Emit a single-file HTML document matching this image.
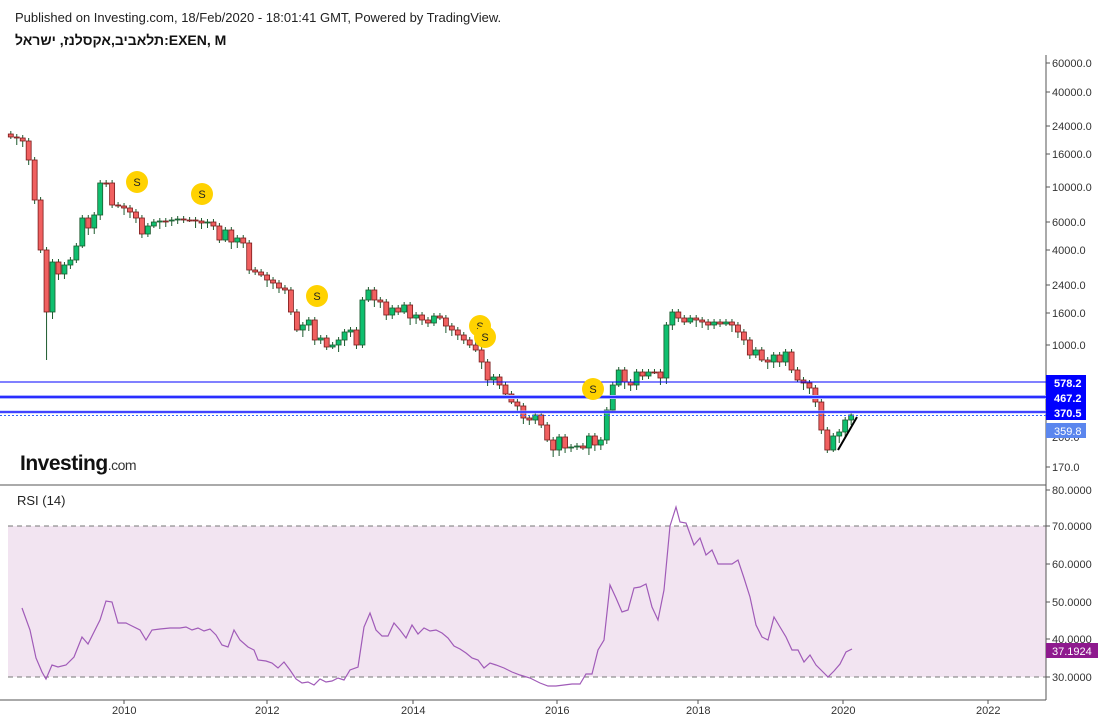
<!DOCTYPE html>
<html><head><meta charset="utf-8"><style>
body{margin:0;background:#fff;width:1105px;height:723px;overflow:hidden;font-family:"Liberation Sans",sans-serif}
</style></head><body>
<svg id="s" width="1105" height="723" xmlns="http://www.w3.org/2000/svg" font-family="Liberation Sans, sans-serif">
<text x="15" y="22" font-size="13" fill="#222">Published on Investing.com, 18/Feb/2020 - 18:01:41 GMT, Powered by TradingView.</text>
<text x="15" y="45" font-size="14" font-weight="bold" fill="#111" style="font-family:'Liberation Sans','DejaVu Sans',sans-serif">תלאביב,אקסלנז, ישראל:EXEN, M</text>
<rect x="8" y="526" width="1038" height="151" fill="#f2e4f1"/>
<line x1="8" y1="526" x2="1046" y2="526" stroke="#777" stroke-dasharray="5,4"/>
<line x1="8" y1="677" x2="1046" y2="677" stroke="#777" stroke-dasharray="5,4"/>
<line x1="1046" y1="55" x2="1046" y2="700" stroke="#555"/>
<line x1="0" y1="485" x2="1046" y2="485" stroke="#555"/>
<line x1="0" y1="700" x2="1046" y2="700" stroke="#555"/>
<g id="c"></g>
<line x1="0" y1="382" x2="1046" y2="382" stroke="#0000ff" stroke-width="1"/>
<line x1="0" y1="397" x2="1046" y2="397" stroke="#aab4ff" stroke-width="4"/>
<line x1="0" y1="397" x2="1046" y2="397" stroke="#0000ff" stroke-width="1.5"/>
<line x1="0" y1="412" x2="1046" y2="412" stroke="#aab4ff" stroke-width="3"/>
<line x1="0" y1="412" x2="1046" y2="412" stroke="#0000ff" stroke-width="1.3"/>
<line x1="0" y1="415.5" x2="1046" y2="415.5" stroke="#3366ff" stroke-dasharray="2,2"/>
<line x1="838" y1="450" x2="857" y2="417" stroke="#000" stroke-width="2"/>
<g font-size="11" fill="#333">
<text x="1052" y="67">60000.0</text><text x="1052" y="96">40000.0</text><text x="1052" y="130">24000.0</text><text x="1052" y="158">16000.0</text><text x="1052" y="191">10000.0</text><text x="1052" y="226">6000.0</text><text x="1052" y="254">4000.0</text><text x="1052" y="289">2400.0</text><text x="1052" y="317">1600.0</text><text x="1052" y="349">1000.0</text><text x="1052" y="441">200.0</text><text x="1052" y="471">170.0</text>
<text x="1052" y="494">80.0000</text><text x="1052" y="530">70.0000</text><text x="1052" y="568">60.0000</text><text x="1052" y="606">50.0000</text><text x="1052" y="643">40.0000</text><text x="1052" y="681">30.0000</text>
<text x="112" y="714">2010</text><text x="255" y="714">2012</text><text x="401" y="714">2014</text><text x="545" y="714">2016</text><text x="686" y="714">2018</text><text x="831" y="714">2020</text><text x="976" y="714">2022</text>
</g>
<g stroke="#555"><line x1="1046" y1="63" x2="1050" y2="63"/><line x1="1046" y1="92" x2="1050" y2="92"/><line x1="1046" y1="126" x2="1050" y2="126"/><line x1="1046" y1="154" x2="1050" y2="154"/><line x1="1046" y1="187" x2="1050" y2="187"/><line x1="1046" y1="222" x2="1050" y2="222"/><line x1="1046" y1="250" x2="1050" y2="250"/><line x1="1046" y1="285" x2="1050" y2="285"/><line x1="1046" y1="313" x2="1050" y2="313"/><line x1="1046" y1="345" x2="1050" y2="345"/><line x1="1046" y1="467" x2="1050" y2="467"/><line x1="1046" y1="490" x2="1050" y2="490"/><line x1="1046" y1="526" x2="1050" y2="526"/><line x1="1046" y1="564" x2="1050" y2="564"/><line x1="1046" y1="602" x2="1050" y2="602"/><line x1="1046" y1="639" x2="1050" y2="639"/><line x1="1046" y1="677" x2="1050" y2="677"/>
<line x1="124" y1="700" x2="124" y2="704"/><line x1="267" y1="700" x2="267" y2="704"/><line x1="413" y1="700" x2="413" y2="704"/><line x1="557" y1="700" x2="557" y2="704"/><line x1="698" y1="700" x2="698" y2="704"/><line x1="843" y1="700" x2="843" y2="704"/><line x1="988" y1="700" x2="988" y2="704"/></g>
<g font-size="11" font-weight="bold" fill="#fff">
<rect x="1046" y="375" width="40" height="15" fill="#0000ff"/><text x="1054" y="387">578.2</text>
<rect x="1046" y="390" width="40" height="15" fill="#0000ff"/><text x="1054" y="402">467.2</text>
<rect x="1046" y="405" width="40" height="15" fill="#0000ff"/><text x="1054" y="417">370.5</text>
<rect x="1046" y="423" width="40" height="15" fill="#5b86ee"/><text x="1054" y="435" font-weight="normal">359.8</text>
<rect x="1046" y="643" width="52" height="15" fill="#8e1a8e"/><text x="1052" y="655" font-weight="normal">37.1924</text>
</g>
<text x="17" y="505" font-size="13" fill="#222">RSI (14)</text>
<text x="20" y="470" font-size="21" font-weight="bold" fill="#111" letter-spacing="-0.5">Investing<tspan font-size="14" font-weight="normal" fill="#333">.com</tspan></text>
<polyline fill="none" stroke="#a05bb8" stroke-width="1.2" points="22,608 30,630 36,658 42,672 46,679 52,665 58,667 66,665 74,657 82,637 88,644 96,628 100,620 106,601 112,602 118,623 126,623 132,626 140,630 146,640 152,630 160,629 170,628 180,628 186,627 192,630 198,628 204,631 210,629 216,635 222,645 228,647 234,630 240,640 248,647 254,650 258,660 266,661 272,663 278,668 284,662 290,670 296,679 302,683 308,682 314,685 320,679 326,682 332,681 338,678 344,680 350,670 358,667 364,627 370,613 376,630 382,636 388,636 394,623 400,630 406,638 412,625 418,634 424,628 430,631 436,630 442,633 448,638 454,646 460,649 466,653 472,658 478,660 484,668 490,663 496,665 504,668 512,672 520,675 530,678 540,683 548,686 556,686 564,685 572,684 580,684 586,674 592,674 598,650 604,640 610,585 616,598 622,612 628,610 634,588 640,587 646,584 652,607 658,620 664,590 670,526 676,507 680,522 686,523 694,545 700,538 706,555 712,550 718,564 726,564 732,564 738,560 744,578 750,597 756,625 762,637 768,640 774,617 780,627 786,637 792,650 798,650 804,662 810,655 816,665 822,671 828,677 834,671 840,664 846,652 852,649"/>
<g id="b"></g>
</svg>
<script>
(function(){
var NS='http://www.w3.org/2000/svg';
function el(p,t,a,txt){var e=document.createElementNS(NS,t);for(var k in a)e.setAttribute(k,a[k]);if(txt)e.textContent=txt;p.appendChild(e);return e;}
var ys=[137,138,141,160,200,250,312,262,274,265,260,246,218,228,215,183,183,205,206,208,212,218,234,226,222,221,221,220,219,220,220,221,223,222,226,240,230,242,238,243,270,272,275,280,283,288,290,312,330,325,320,340,338,347,345,340,332,330,345,300,290,300,302,315,308,312,305,318,315,320,323,316,318,326,330,335,340,345,350,362,380,377,385,394,402,406,418,420,415,425,440,450,437,448,447,446,448,436,445,440,410,385,370,382,385,372,376,372,372,378,325,312,318,322,318,320,322,325,322,324,322,325,332,340,355,350,360,362,355,362,352,370,380,383,388,402,430,450,436,432,420,415];
var g=document.getElementById('c'),prev=ys[0]-3;
for(var k=0;k<ys.length;k++){var i=k+5,x=-19+5.96*i,o=prev,c=ys[k];var yt=Math.min(o,c),yb=Math.max(o,c);
var up=c<o;var col=up?'#0fbf6f':'#f06060',st=up?'#1d5a2e':'#7a1b1b';
var wt=yt-3-((k*7)%7),wb=yb+2+((k*5)%6);if(k==6)wb=360;
el(g,'line',{x1:x,y1:wt,x2:x,y2:wb,stroke:'#1d5a2e','stroke-width':1});
el(g,'rect',{x:x-2.5,y:yt,width:5,height:Math.max(1,yb-yt),fill:col,stroke:st,'stroke-width':0.8});prev=c;}
var b=document.getElementById('b');[[137,182],[202,194],[317,296],[480,326],[485,337],[593,389]].forEach(function(p){el(b,'circle',{cx:p[0],cy:p[1],r:11,fill:'#ffd200'});el(b,'text',{x:p[0],y:p[1]+4,'font-size':11,'text-anchor':'middle',fill:'#222'},'S');});
})();
</script>
</body></html>
